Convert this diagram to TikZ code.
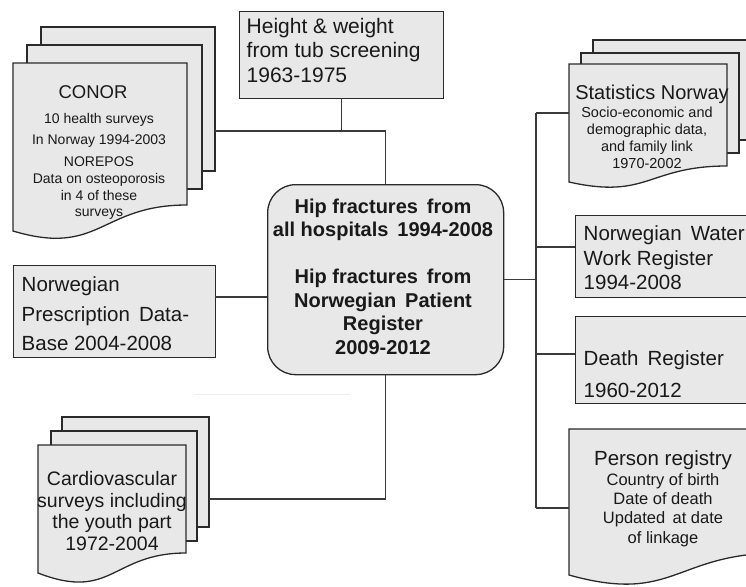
\documentclass[tikz,border=0pt]{standalone}
\usepackage{fontspec}
\setmainfont{Liberation Sans}
\definecolor{boxfill}{HTML}{E8E8E8}
\definecolor{edgec}{HTML}{2A2A2A}
\definecolor{wirec}{HTML}{3A3A3A}
\newcommand\fsz[2]{\fontsize{#1}{#2}\selectfont}
% document sheet: x0, y0, x1, ybottom-left, d (rise of right end), a (dip)
\newcommand\docpath[6]{%
  \filldraw[boxsty] (#1,#2) -- (#3,#2) -- (#3,{#4-#5})
    .. controls ({(#1+#3)/2},{#4-#5}) and ({(#1+#3)/2},{#4+#6}) .. (#1,#4) -- cycle;}
\tikzset{
  boxsty/.style={draw=edgec, line width=1.3pt, fill=boxfill},
  wirest/.style={draw=wirec, line width=1.2pt},
  txt/.style={inner sep=0pt, text=black!90},
  rectbox/.style={boxsty, rectangle, inner sep=0pt, anchor=north west},
}
\begin{document}
\begin{tikzpicture}[x=1pt,y=-1pt]
\clip (0,0) rectangle (746,586);
\fill[white] (0,0) rectangle (746,586);

% ---- CONOR stack
\filldraw[boxsty] (41,27) rectangle (215,171);
\filldraw[boxsty] (27,45) rectangle (202,189);
\docpath{13}{63}{187}{231}{26}{26}
\coordinate (conorR) at (215,131);
\node[txt, anchor=base, font={\fsz{18.5}{20}}] (conorT) at (93,98.7) {CONOR};
\node[txt, anchor=north, align=center, font={\fsz{14}{16.5}}] (conorB) at (99,112.9)
  {10 health surveys\\[5pt] In Norway 1994-2003\\[5pt] NOREPOS\\[1pt] Data on osteoporosis\\ in 4 of these\\ surveys};

% ---- Height & weight
\node[rectbox, minimum width=204, minimum height=87] (hw) at (239,11) {};
\node[txt, anchor=north west, align=left, font={\fsz{21}{24.5}}] (hwt) at (246.5,17.9)
  {Height \& weight\\from tub screening\\1963-1975};

% ---- Prescription
\node[rectbox, minimum width=202, minimum height=92] (presc) at (13,265) {};
\node[txt, anchor=north west, align=left, font={\fsz{20.5}{29.5}}] (presct) at (21.5,276.6)
  {Norwegian\\Prescription\, Data-\\Base 2004-2008};
\coordinate (prescR) at (215,297);

% ---- Cardio stack
\filldraw[boxsty] (62,417) rectangle (209,527);
\filldraw[boxsty] (51,431) rectangle (197,541);
\docpath{38}{445}{186}{573}{20}{28.7}
\coordinate (cardR) at (209,499);
\node[txt, anchor=north, align=center, font={\fsz{19.5}{21.7}}] (cardt) at (112,471)
  {Cardiovascular\\surveys including\\the youth part\\1972-2004};

% faint mark
\draw[black!7, line width=1pt] (195,394) -- (350,394);

% ---- Central box
\node[rectbox, rounded corners=28pt, minimum width=236, minimum height=190] (hip) at (267,184) {};
\node[txt, anchor=north, align=center, font={\fsz{20}{23.5}\bfseries}] (hipt) at (383,198.8)
  {Hip fractures\, from\\all hospitals\, 1994-2008\\[23.5pt]Hip fractures\, from\\Norwegian\, Patient\\Register\\2009-2012};

% ---- Statistics Norway stack
\filldraw[boxsty] (593,40) rectangle (770,140);
\filldraw[boxsty] (581,53) rectangle (739,153);
\docpath{569}{64}{727}{182}{16}{17.8}
\coordinate (statL) at (569,113);
\node[txt, anchor=base, font={\fsz{20}{22}}] (statT) at (652,99.2) {Statistics Norway};
\node[txt, anchor=north, align=center, font={\fsz{14.5}{17}}] (statB) at (647,106.8)
  {Socio-economic and\\demographic data,\\and family link\\1970-2002};

% ---- Water register
\node[rectbox, minimum width=200, minimum height=82] (water) at (575,215) {};
\node[txt, anchor=north west, align=left, font={\fsz{20.5}{24.5}}] (watert) at (583.5,225.6)
  {Norwegian\, Water\\Work Register\\1994-2008};
\coordinate (waterL) at (575,247);

% ---- Death register
\node[rectbox, minimum width=200, minimum height=87] (death) at (575,316) {};
\node[txt, anchor=north west, align=left, font={\fsz{20.5}{32}}] (deatht) at (583.5,350.6)
  {Death\, Register\\1960-2012};
\coordinate (deathL) at (575,354);

% ---- Person registry
\docpath{569}{429}{780}{575}{22}{29.5}
\coordinate (persL) at (569,508);
\node[txt, anchor=base, font={\fsz{20.5}{22}}] (persT) at (663,465.4) {Person registry};
\node[txt, anchor=north, align=center, font={\fsz{16.5}{19.3}}] (persB) at (663,473)
  {Country of birth\\Date of death\\Updated\, at date\\of linkage};

% ---- Connectors
\coordinate (busT) at (536,113);
\coordinate (busB) at (536,508);
\draw[wirest] (hw.south) -- (hw.south |- conorR);
\draw[wirest] (conorR) -| (hip.north);
\draw[wirest] (prescR) -- (prescR -| hip.west);
\draw[wirest] (cardR) -| (hip.south);
\draw[wirest] (hip.east) -- (hip.east -| busT);
\draw[wirest] (busT) -- (busB);
\draw[wirest] (busT) -- (statL);
\draw[wirest] (waterL -| busT) -- (waterL);
\draw[wirest] (deathL -| busT) -- (deathL);
\draw[wirest] (busB) -- (persL);
\end{tikzpicture}
\end{document}
